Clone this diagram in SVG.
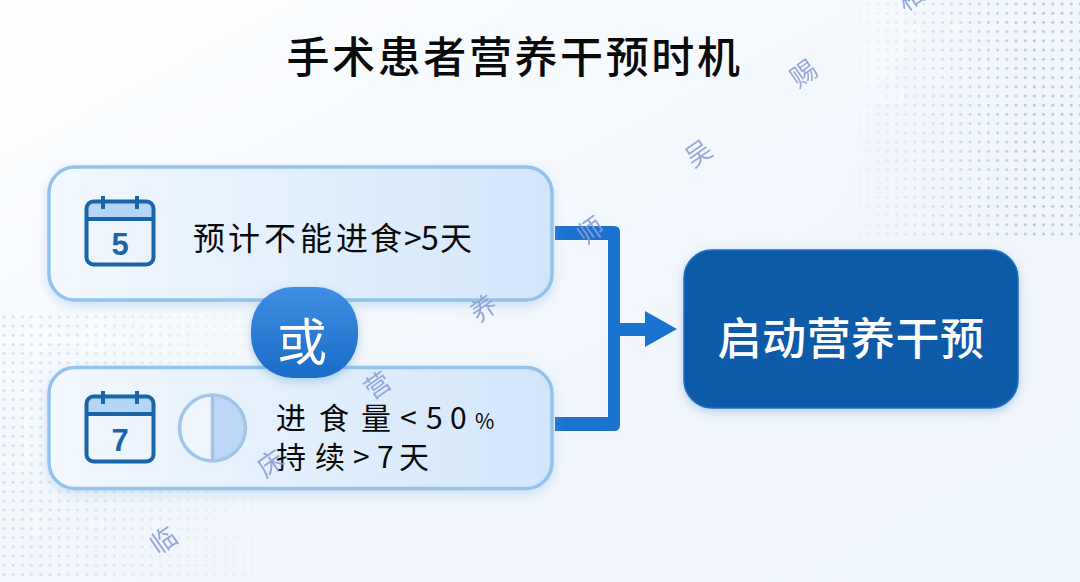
<svg xmlns="http://www.w3.org/2000/svg" width="1080" height="582" viewBox="0 0 1080 582">
<style>
.cjk{font-family:"Noto Sans CJK SC","Noto Sans",sans-serif}
.wm{font-family:"Noto Sans CJK SC",sans-serif;font-size:26px;font-weight:400;fill:#8d9fd6;text-anchor:middle;opacity:.9}
.card{stroke:#93c3ec;stroke-width:3.5;filter:url(#sh)}
.ico{fill:none;stroke:#1a65a8;stroke-width:4}
.t{fill:#0a0a0a;font-size:32px}
</style>
<defs>
<linearGradient id="bg" x1="0" y1="0" x2="1" y2="1"><stop offset="0" stop-color="#fdfeff"/><stop offset=".55" stop-color="#f2f7fd"/><stop offset="1" stop-color="#eff5fc"/></linearGradient>
<linearGradient id="c" x1="0" y1="0" x2="1" y2="0"><stop offset="0" stop-color="#f2f8fe"/><stop offset="1" stop-color="#d2e6fb"/></linearGradient>
<linearGradient id="btn" x1="0" y1="0" x2="0" y2="1"><stop offset="0" stop-color="#3f8ee2"/><stop offset="1" stop-color="#1a6cc8"/></linearGradient>
<pattern id="dots" width="9.2" height="9.2" patternUnits="userSpaceOnUse"><circle cx="4" cy="4" r="1.5" fill="#b9c6da"/></pattern>
<linearGradient id="fr" x1="0" y1="0" x2="1" y2="0"><stop offset="0" stop-color="#000"/><stop offset=".8" stop-color="#fff"/></linearGradient>
<linearGradient id="fl" x1="0" y1="0" x2="1" y2="0"><stop offset="0" stop-color="#fff"/><stop offset="1" stop-color="#000"/></linearGradient>
<mask id="mr"><rect x="840" y="0" width="240" height="240" fill="url(#fr)"/></mask>
<mask id="ml"><rect x="0" y="310" width="310" height="272" fill="url(#fl)" opacity=".55"/></mask>
<filter id="sh" x="-10%" y="-20%" width="120%" height="140%"><feDropShadow dx="0" dy="4" stdDeviation="6" flood-color="#7fb0e0" flood-opacity=".35"/></filter>
<filter id="sh2" x="-20%" y="-20%" width="140%" height="140%"><feDropShadow dx="0" dy="3" stdDeviation="5" flood-color="#5a8fc8" flood-opacity=".4"/></filter>
</defs>
<rect width="1080" height="582" fill="url(#bg)"/>
<rect x="840" y="0" width="240" height="240" fill="url(#dots)" mask="url(#mr)"/>
<rect x="0" y="310" width="310" height="272" fill="url(#dots)" mask="url(#ml)"/>
<text class="cjk" x="514.500" y="73" font-size="43" font-weight="500" fill="#0a0a0a" text-anchor="middle" letter-spacing="2.600">手术患者营养干预时机</text>

<g id="connectors" fill="#1b73d0">
<path d="M555 226H614Q620 226 620 232V425Q620 431 614 431H555V417H608V240H555Z"/>
<rect x="618" y="323" width="30" height="13"/>
<path d="M645 311L677 329L645 347Z"/>
</g>

<g id="node-card1">
<rect class="card" x="49" y="167" width="503" height="133" rx="26" fill="url(#c)"/>
<path d="M87 209Q87 202 94 202H146Q153 202 153 209V219H87Z" fill="#b5d5f6"/>
<rect class="ico" x="86.500" y="201.500" width="67" height="63" rx="7"/>
<path class="ico" d="M86 219H154M103 196V209M137 196V209"/>
<text x="120" y="255" font-family="Liberation Sans,sans-serif" font-weight="700" font-size="31" fill="#1a65a8" text-anchor="middle">5</text>
<text class="cjk t" x="193 228 264 300 336 370 404 421 440" y="250">预计不能进食&gt;5天</text>
</g>

<g id="node-card2">
<rect class="card" x="49" y="367.500" width="503" height="121" rx="26" fill="url(#c)"/>
<path d="M87 403Q87 397 94 397H146Q153 397 153 403V414H87Z" fill="#b5d5f6"/>
<rect class="ico" x="86.500" y="396.500" width="67" height="65" rx="7"/>
<path class="ico" d="M86 414H154M103 391V404M137 391V404"/>
<text x="120" y="451" font-family="Liberation Sans,sans-serif" font-weight="700" font-size="31" fill="#1a65a8" text-anchor="middle">7</text>
<circle cx="212.500" cy="428" r="33" fill="#eef5fd"/>
<path d="M212.500 395A33 33 0 0 1 212.500 461Z" fill="#bcd8f6"/>
<circle cx="212.500" cy="428" r="33" fill="none" stroke="#a5c5e8" stroke-width="3.500"/>
<path d="M212.500 395V461" stroke="#a5c5e8" stroke-width="3.500"/>
<text class="cjk" y="429" font-size="30" fill="#0a0a0a"><tspan x="276 319 361 400 426 450">进食量&lt;50</tspan><tspan x="475" font-size="21">%</tspan></text>
<text class="cjk" x="276 315 353 377 399" y="468" font-size="30" fill="#0a0a0a">持续&gt;7天</text>
</g>

<g id="node-or">
<rect x="251" y="287" width="107" height="91" rx="42" fill="url(#btn)" filter="url(#sh2)"/>
<text class="cjk" x="302" y="360" font-size="50" fill="#fff" text-anchor="middle">或</text>
</g>

<g id="node-target">
<rect x="684" y="250" width="334" height="158" rx="28" fill="#0a5aa9" stroke="#1f6fc0" stroke-width="1.500" filter="url(#sh2)"/>
<text class="cjk" x="851" y="355" font-size="44" font-weight="500" fill="#fff" text-anchor="middle" letter-spacing=".5">启动营养干预</text>
</g>

<g id="watermark">
<text class="wm" transform="translate(169 548) rotate(-35)">临</text>
<text class="wm" transform="translate(276 471) rotate(-35)">床</text>
<text class="wm" transform="translate(383 393) rotate(-35)">营</text>
<text class="wm" transform="translate(489 316) rotate(-35)">养</text>
<text class="wm" transform="translate(596 238) rotate(-35)">师</text>
<text class="wm" transform="translate(704 161) rotate(-35)">吴</text>
<text class="wm" transform="translate(809 81) rotate(-35)">赐</text>
<text class="wm" transform="translate(916 5) rotate(-35)">相</text>
</g>
</svg>
